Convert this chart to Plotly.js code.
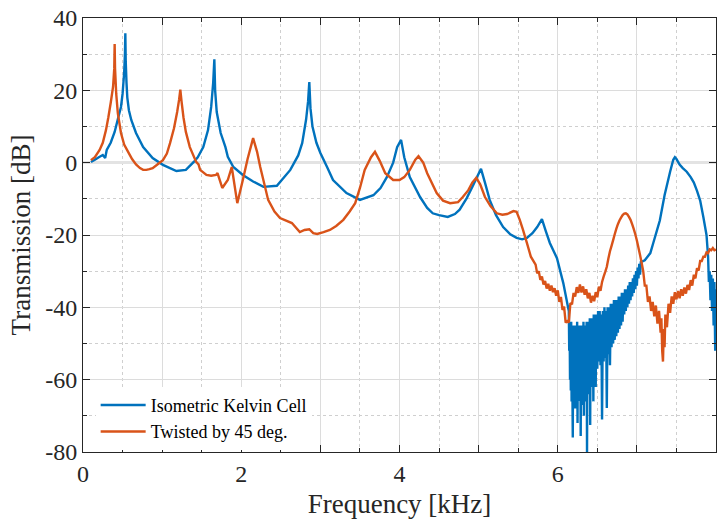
<!DOCTYPE html>
<html>
<head>
<meta charset="utf-8">
<script src="https://cdn.plot.ly/plotly-3.0.1.min.js"></script>
<style>html,body{margin:0;padding:0;background:#fff}#chart{width:720px;height:523px}</style>
</head>
<body>
<div id="chart"></div>
<script>
// ---- Data ----
const seriesNames = ["Isometric Kelvin Cell", "Twisted by 45 deg."];

// Isometric Kelvin Cell: frequency [kHz]
const kelvinFreq = [
0.10,0.15,0.20,0.25,0.28,0.30,0.35,0.40,0.44,0.48,0.50,0.52,0.53,0.535,0.54,0.55,0.56,0.58,0.61,0.67,
0.76,0.88,1.01,1.18,1.30,1.40,1.45,1.52,1.58,1.62,1.645,1.66,1.67,1.69,1.74,1.80,1.83,1.90,2.02,2.15,
2.28,2.45,2.62,2.72,2.77,2.82,2.845,2.86,2.875,2.90,2.95,3.00,3.08,3.16,3.33,3.50,3.67,3.76,3.84,3.92,
3.97,4.02,4.06,4.13,4.26,4.35,4.42,4.50,4.61,4.70,4.76,4.85,4.92,5.03,5.08,5.14,5.22,5.31,5.40,5.48,
5.55,5.61,5.68,5.74,5.80,5.85,5.90,5.99,6.07,6.13,
6.140,6.145,6.150,6.155,6.160,6.165,6.170,6.175,6.180,6.185,6.190,6.195,6.200,6.205,6.210,6.215,6.220,6.225,6.230,6.235,
6.240,6.245,6.250,6.255,6.260,6.265,6.270,6.275,6.280,6.285,6.290,6.295,6.300,6.305,6.310,6.315,6.320,6.325,6.330,6.335,
6.340,6.345,6.350,6.355,6.360,6.365,6.370,6.375,6.380,6.385,6.390,6.395,6.400,6.405,6.410,6.415,6.420,6.425,6.430,6.435,
6.440,6.445,6.450,6.455,6.460,6.465,6.470,6.475,6.480,6.485,6.490,6.495,6.500,
6.51,6.52,6.53,6.54,6.55,6.56,6.57,6.58,6.59,6.60,6.61,6.62,6.63,6.64,6.65,6.66,6.67,6.68,6.69,6.70,
6.71,6.72,6.73,6.74,6.75,6.76,6.77,6.78,6.79,6.80,6.81,6.82,6.83,6.84,6.85,6.86,6.87,6.88,6.89,6.90,
6.91,6.92,6.93,6.94,6.95,6.96,6.97,6.98,6.99,7.00,7.01,7.02,7.03,7.04,7.05,
7.10,7.17,7.21,7.25,7.29,7.35,7.42,7.46,7.48,7.50,7.54,7.58,7.63,7.68,7.72,7.76,7.80,7.84,7.88,7.90,
7.91,7.92,7.93,7.94,7.95,7.96,7.97,7.98,7.99,8.00
];
// Isometric Kelvin Cell: transmission [dB]
const kelvinDb = [
0.2,0.8,1.5,2.1,1.3,3.5,5.5,8.5,12,15.4,19,24.8,30,35.8,28,22,18,14.5,11.8,8.2,
4.3,1.3,-0.6,-2.3,-2.0,0.2,1.5,4.3,9,15.4,22,28.6,20,14,8.2,4.3,1.6,-1.2,-3.4,-5.2,
-6.7,-6.4,-2,2,5.4,12,17,22.3,15,10,5.5,2.7,-1,-4.8,-8.4,-10.3,-9,-7,-4,0,
4.3,6.3,1.5,-4,-9.5,-12.5,-14,-14.5,-15,-14.2,-13,-9.8,-6.7,-1.7,-5.5,-10.3,-14.5,-17.8,-19.8,-20.8,
-21.2,-20.8,-19.5,-17.8,-15.6,-19,-22.2,-26.4,-33.3,-40,
-41,-52,-44,-60,-45,-63,-44,-66,-45,-62,-76,-46,-64,-45,-61,-46,-68,-45,-63,-46,
-65,-44,-72,-46,-62,-45,-66,-46,-63,-45,-75.6,-46,-64,-45,-62,-46,-67,-44,-70,-45,
-63,-46,-61,-45,-66,-44,-80,-45,-62,-44,-64,-45,-60,-43,-72.5,-44,-60,-43,-62,-44,
-59,-43,-66,-42,-58,-43,-57,-42,-62,-42,-56,-42,-57,
-41,-55,-41,-56,-42,-71,-41,-55,-40,-54,-41,-67.8,-40,-53,-40,-56,-39,-51,-39,-50,
-38,-49,-38,-48,-38,-47,-37,-46,-37,-45,-36,-44,-36,-42,-35,-41,-35,-40,-34,-39,
-33,-38,-33,-37,-32,-36,-31,-35,-30,-34,-29,-32,-28,-31,-27.5,
-27,-25,-22,-19,-16,-9,-2.5,0.8,1.5,1.0,-0.5,-1.5,-2.5,-4,-5.5,-7.8,-10.5,-15,-20,-26,
-33,-30,-38,-31,-41,-32,-45,-33,-52,-35
];

// Twisted by 45 deg.: frequency [kHz]
const twistedFreq = [
0.10,0.15,0.21,0.25,0.29,0.32,0.35,0.38,0.395,0.40,0.405,0.42,0.44,0.48,0.52,0.57,0.62,0.67,0.72,0.76,
0.80,0.84,0.88,0.94,1.01,1.06,1.10,1.15,1.19,1.215,1.23,1.245,1.27,1.30,1.35,1.43,1.46,1.48,1.56,1.62,
1.68,1.70,1.76,1.83,1.88,1.95,2.02,2.08,2.15,2.20,2.24,2.34,2.42,2.49,2.64,2.74,2.80,2.86,2.91,2.96,
3.04,3.12,3.20,3.29,3.37,3.44,3.50,3.56,3.64,3.69,3.75,3.82,3.92,4.00,4.06,4.13,4.20,4.24,4.30,4.35,
4.47,4.55,4.64,4.74,4.80,4.87,4.92,4.97,5.02,5.08,5.15,5.23,5.30,5.36,5.44,5.48,5.52,5.56,5.61,5.66,
5.72,5.74,5.76,5.78,5.80,5.82,5.84,5.86,5.88,5.90,5.92,5.94,5.96,5.98,6.00,6.02,6.04,6.06,6.08,6.10,
6.12,6.14,6.16,6.18,6.20,6.22,6.24,6.26,6.28,6.30,6.32,6.34,6.36,6.38,6.40,6.42,6.44,6.46,6.48,6.50,
6.52,6.54,6.56,6.58,6.60,6.62,6.64,6.66,6.68,6.70,6.72,6.74,6.76,6.78,6.80,6.82,6.84,6.86,6.88,6.90,
6.92,6.94,6.96,6.98,7.00,7.02,7.04,7.06,7.08,7.10,7.12,7.14,7.16,7.18,7.20,7.22,7.24,7.26,7.28,7.30,
7.31,7.32,7.33,7.34,7.35,7.36,7.38,7.40,7.42,7.44,7.46,7.48,7.50,7.52,7.54,7.56,7.58,7.60,7.62,7.64,
7.66,7.68,7.70,7.72,7.74,7.76,7.78,7.80,7.82,7.84,7.86,7.88,7.90,7.92,7.94,7.96,7.98,8.00
];
// Twisted by 45 deg.: transmission [dB]
const twistedDb = [
0.7,1.5,3.5,5.5,9,12.5,16.5,21,26,32.8,26,19,13.7,8.2,5,3,1,-0.5,-1.5,-2,
-2,-1.8,-1.5,-0.5,0.7,2.5,5.4,9.5,14,17.5,20.2,17,12.5,8.5,4.3,0.2,-0.5,-2,-3.4,-3.6,
-3.4,-2.9,-7,-4.8,-1.2,-11.2,-4.8,1,6.8,3,-1.2,-10.3,-13.5,-15.3,-16.7,-19.2,-18.6,-18.4,-19.5,-19.7,
-19.2,-18.6,-17.5,-15.8,-13.5,-11.2,-7,-2,1.5,3,0.5,-2.9,-4.8,-4.8,-4,-2,0.8,1.8,0,-2.9,
-8.4,-10.5,-11.2,-10.9,-9.5,-7.6,-5.5,-4.2,-6,-9.5,-12,-14,-14.4,-14.2,-13.4,-13.6,-15.8,-18.5,-22.2,-26,
-28.2,-30.6,-30.0,-32.4,-31.5,-33.7,-32.7,-34.8,-33.5,-35.4,-34.0,-35.8,-34.7,-36.8,-35.3,-38.5,-37.1,-40.7,-39.8,-44.2,
-43.8,-44.2,-38.8,-39.2,-36.0,-37.0,-34.4,-36.0,-33.7,-35.9,-34.2,-36.5,-35.0,-37.5,-36.0,-38.7,-36.8,-38.3,-35.8,-37.2,
-34.3,-35.4,-33.0,-31.5,-30.2,-28.8,-26.5,-24.5,-23.0,-21.4,-19.8,-18.3,-17.0,-16.0,-15.2,-14.5,-14.1,-14.0,-14.3,-15.0,
-15.8,-17.0,-18.3,-19.8,-21.5,-23.5,-25.5,-27.7,-30.0,-34.0,-34.0,-38.5,-37.0,-41.0,-38.5,-42.5,-39.5,-44.5,-41.0,-47.0,
-43,-52,-55,-46,-51,-42,-45.5,-39.0,-41.5,-37.0,-39.0,-35.8,-37.8,-35.5,-37.5,-35.0,-36.8,-34.5,-36.2,-33.8,
-35.2,-32.5,-34.0,-31.0,-32.0,-29.2,-29.8,-27.2,-27.2,-26.0,-26.0,-24.8,-25.0,-24.0,-24.2,-23.6,-24.2,-24.0
];

// Axis ticks
const xTickVals = [0,1,2,3,4,5,6,7,8];
const xTickText = ["0","","2","","4","","6","","8"];
const yTickVals = [-80,-60,-40,-20,0,20,40];
const yTickText = ["-80","-60","-40","-20","0","20","40"];

// ---- Plot ----
const FONT = "'Times New Roman', 'Liberation Serif', Times, serif";
const traces = [
  {x: kelvinFreq, y: kelvinDb, name: seriesNames[0], type: "scatter", mode: "lines",
   line: {color: "#0072BD", width: 2.4, simplify: false}},
  {x: twistedFreq, y: twistedDb, name: seriesNames[1], type: "scatter", mode: "lines",
   line: {color: "#D95319", width: 2.4, simplify: false}}
];

const axisCommon = {
  showline: true, linecolor: "#262626", linewidth: 1, mirror: "allticks",
  ticks: "inside", ticklen: 7, tickcolor: "#262626", tickwidth: 1,
  showgrid: true, gridcolor: "#dcdcdc", gridwidth: 1,
  tickfont: {family: FONT, size: 24, color: "#262626"},
  zeroline: false, automargin: false
};

const layout = {
  width: 720, height: 523,
  margin: {l: 83, r: 4, t: 18, b: 71},
  paper_bgcolor: "#ffffff", plot_bgcolor: "#ffffff",
  showlegend: true,
  legend: {
    x: 0.02, y: 0.005, xanchor: "left", yanchor: "bottom",
    bgcolor: "#ffffff", borderwidth: 0,
    font: {family: FONT, size: 18, color: "#000000"},
    itemwidth: 45, tracegroupgap: 0
  },
  xaxis: Object.assign({}, axisCommon, {
    range: [0, 8], tickmode: "array", tickvals: xTickVals, ticktext: xTickText,
    minor: {dtick: 0.5, tick0: 0, ticks: "inside", ticklen: 4, tickcolor: "#262626",
            showgrid: true, gridcolor: "#cfcfcf", griddash: "dot", gridwidth: 1},
    title: {text: "Frequency [kHz]", font: {family: FONT, size: 27, color: "#262626"}, standoff: 8}
  }),
  yaxis: Object.assign({}, axisCommon, {
    range: [-80, 40], tickmode: "array", tickvals: yTickVals, ticktext: yTickText,
    zeroline: true, zerolinecolor: "#e3e3e3", zerolinewidth: 2.5,
    minor: {dtick: 10, tick0: 0, ticks: "inside", ticklen: 4, tickcolor: "#262626",
            showgrid: true, gridcolor: "#cfcfcf", griddash: "dot", gridwidth: 1},
    title: {text: "Transmission [dB]", font: {family: FONT, size: 27, color: "#262626"}, standoff: 6}
  })
};

Plotly.newPlot("chart", traces, layout, {staticPlot: true, displayModeBar: false});
</script>
</body>
</html>
